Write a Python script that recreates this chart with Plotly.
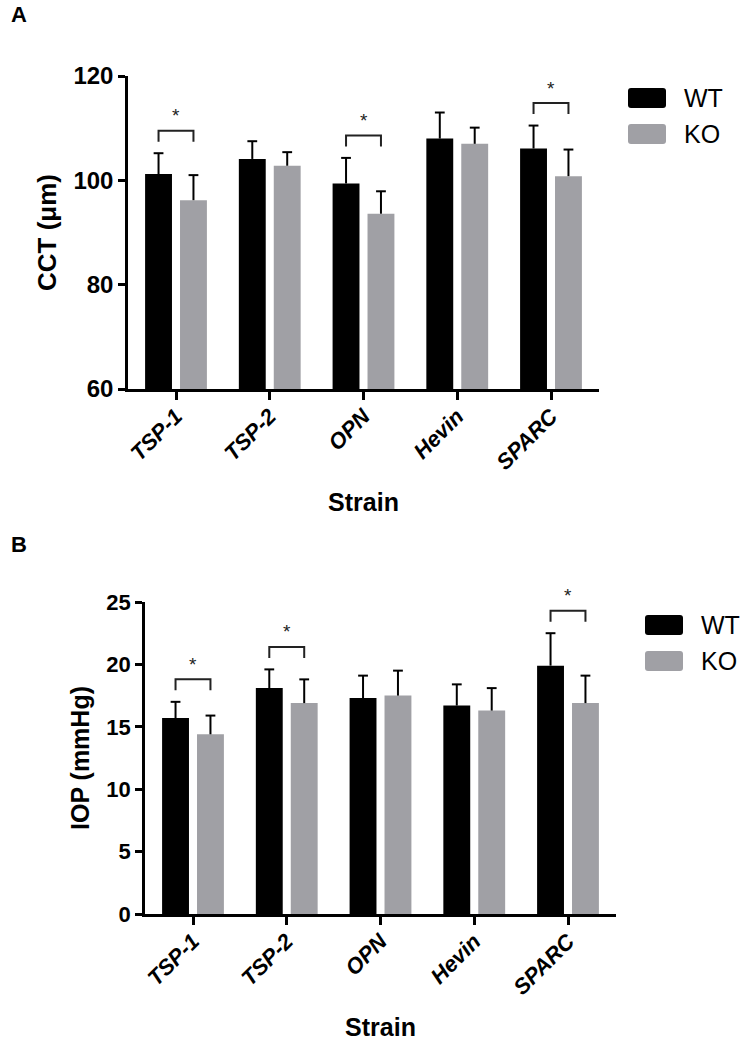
import plotly.graph_objects as go

# ---------------- data ----------------
strains = ["TSP-1", "TSP-2", "OPN", "Hevin", "SPARC"]
groups = ["WT", "KO"]

cct_wt = [101.2, 104.1, 99.4, 108.0, 106.1]
cct_wt_sd = [4.0, 3.4, 4.9, 5.0, 4.4]
cct_ko = [96.2, 102.8, 93.6, 107.0, 100.8]
cct_ko_sd = [4.8, 2.6, 4.3, 3.1, 5.1]
cct_sig = [0, 2, 4]          # strains with significant WT vs KO difference
cct_ticks = [60, 80, 100, 120]

iop_wt = [15.7, 18.1, 17.3, 16.7, 19.9]
iop_wt_sd = [1.3, 1.5, 1.8, 1.7, 2.6]
iop_ko = [14.4, 16.9, 17.5, 16.3, 16.9]
iop_ko_sd = [1.5, 1.9, 2.0, 1.8, 2.2]
iop_sig = [0, 1, 4]
iop_ticks = [0, 5, 10, 15, 20, 25]

# ---------------- style ----------------
W, H = 745, 1050
FONT = "Liberation Sans, Arial, sans-serif"
WT_COLOR = "#000000"
KO_COLOR = "#a0a0a5"
BARGAP = 0.255
BARGROUPGAP = 0.23
XRANGE = [-0.512, 4.512]


def px(x):
    return x / W


def py(y):
    return 1 - y / H


def rounded_rect(x0, y0, x1, y1, r):
    """rounded rectangle path in paper coords, inputs in pixels (y down)."""
    X0, X1 = px(x0), px(x1)
    Y0, Y1 = py(y0), py(y1)  # Y0 top (larger), Y1 bottom
    rx, ry = r / W, r / H
    return ("M {a},{b} L {c},{b} Q {X1},{Y0} {X1},{d} L {X1},{e} Q {X1},{Y1} {c},{Y1} "
            "L {a},{Y1} Q {X0},{Y1} {X0},{e} L {X0},{d} Q {X0},{Y0} {a},{b} Z").format(
        a=X0 + rx, b=Y0, c=X1 - rx, d=Y0 - ry, e=Y1 + ry, X0=X0, X1=X1, Y0=Y0, Y1=Y1)


idx = list(range(len(strains)))

panels = [
    dict(xa="x", ya="y", xdom=[128, 599], ydom=[389, 76], yrange=[60, 120],
         ticks=cct_ticks, wt=cct_wt, wsd=cct_wt_sd, ko=cct_ko, ksd=cct_ko_sd,
         sig=cct_sig, ytitle="CCT (\u03bcm)", letter="A", letter_y=15,
         legend_y=98, legend_x=628, tickfs=24, ytfs=26),
    dict(xa="x2", ya="y2", xdom=[145, 616], ydom=[914, 602], yrange=[0, 25],
         ticks=iop_ticks, wt=iop_wt, wsd=iop_wt_sd, ko=iop_ko, ksd=iop_ko_sd,
         sig=iop_sig, ytitle="IOP (mmHg)", letter="B", letter_y=544,
         legend_y=625, legend_x=645, tickfs=22, ytfs=25),
]

fig = go.Figure()
annotations = []
shapes = []
layout_axes = {}
off = (1 - BARGAP) / 4   # bar-centre offset from category centre

for k, p in enumerate(panels):
    for s, (name, vals, sds, col) in enumerate([("WT", p["wt"], p["wsd"], WT_COLOR),
                                                ("KO", p["ko"], p["ksd"], KO_COLOR)]):
        fig.add_trace(go.Bar(
            x=idx, y=vals, name=name, xaxis=p["xa"], yaxis=p["ya"],
            marker=dict(color=col, line=dict(width=0)),
            error_y=dict(type="data", array=sds, arrayminus=[0] * len(sds),
                         symmetric=False, color="black", thickness=2, width=0),
            showlegend=False,
        ))
        # error-bar caps
        sign = -1 if s == 0 else 1
        fig.add_trace(go.Scatter(
            x=[i + sign * off for i in idx], y=[v + e for v, e in zip(vals, sds)],
            mode="markers", xaxis=p["xa"], yaxis=p["ya"],
            marker=dict(symbol="line-ew", size=7, line=dict(color="black", width=2)),
            showlegend=False, hoverinfo="skip",
        ))

    # significance brackets
    unit_px = (p["ydom"][0] - p["ydom"][1]) / (p["yrange"][1] - p["yrange"][0])
    for i in p["sig"]:
        top = max(p["wt"][i] + p["wsd"][i], p["ko"][i] + p["ksd"][i])
        yline = top + 22.5 / unit_px
        yarm = yline - 11 / unit_px
        fig.add_trace(go.Scatter(
            x=[i - off, i - off, i + off, i + off], y=[yarm, yline, yline, yarm],
            mode="lines", line=dict(color="#222222", width=2),
            xaxis=p["xa"], yaxis=p["ya"], showlegend=False, hoverinfo="skip",
        ))
        annotations.append(dict(
            x=i, y=yline, xref=p["xa"], yref=p["ya"], text="*", showarrow=False,
            yanchor="middle", yshift=15, font=dict(family=FONT, size=19, color="#222222"),
        ))

    axsuffix = "" if k == 0 else str(k + 1)
    layout_axes["xaxis" + axsuffix] = dict(
        domain=[px(p["xdom"][0]), px(p["xdom"][1])], range=XRANGE, automargin=False,
        anchor=p["ya"], tickmode="array", tickvals=idx, ticktext=strains,
        tickangle=-45, ticks="outside", ticklen=8, tickwidth=2.5, tickcolor="black",
        ticklabelstandoff=-5,
        tickfont=dict(family=FONT, size=22, color="black", weight="bold", style="italic"),
        showline=True, linewidth=2.5, linecolor="black", showgrid=False, zeroline=False,
        title=dict(text="Strain", font=dict(family=FONT, size=25, color="black", weight="bold"),
                   standoff=20),
        fixedrange=True,
    )
    layout_axes["yaxis" + axsuffix] = dict(
        domain=[py(p["ydom"][0]), py(p["ydom"][1])], range=p["yrange"], automargin=False,
        anchor=p["xa"], tickmode="array", tickvals=p["ticks"],
        ticks="outside", ticklen=7, tickwidth=2.5, tickcolor="black",
        tickfont=dict(family=FONT, size=p["tickfs"], color="black", weight="bold"),
        showline=True, linewidth=2.5, linecolor="black", showgrid=False, zeroline=False,
        title=dict(text=p["ytitle"], font=dict(family=FONT, size=p["ytfs"], color="black",
                                               weight="bold"),
                   standoff=10),
        fixedrange=True,
    )

    # panel letter
    annotations.append(dict(
        x=px(19), y=py(p["letter_y"]), xref="paper", yref="paper", text="<b>%s</b>" % p["letter"],
        showarrow=False, xanchor="center", yanchor="middle",
        font=dict(family=FONT, size=22, color="black"),
    ))

    # legend (custom swatches)
    lx0 = p["legend_x"]
    for j, (name, col) in enumerate(zip(groups, [WT_COLOR, KO_COLOR])):
        cy = p["legend_y"] + j * 36
        shapes.append(dict(
            type="path", xref="paper", yref="paper",
            path=rounded_rect(lx0, cy - 10, lx0 + 38, cy + 10, 3),
            fillcolor=col, line=dict(width=0), layer="above",
        ))
        annotations.append(dict(
            x=px(lx0 + 54), y=py(cy), xref="paper", yref="paper", text=name,
            showarrow=False, xanchor="left", yanchor="middle",
            font=dict(family=FONT, size=25, color="black"),
        ))

fig.update_layout(
    width=W, height=H, margin=dict(l=0, r=0, t=0, b=0, autoexpand=False),
    paper_bgcolor="white", plot_bgcolor="white",
    barmode="group", bargap=BARGAP, bargroupgap=BARGROUPGAP,
    showlegend=False, annotations=annotations, shapes=shapes,
    font=dict(family=FONT, color="black"),
    **layout_axes,
)

fig.write_html(
    "out.html",
    config={"displayModeBar": False},
    post_script="document.body.style.margin='0';document.body.style.overflow='hidden';",
)
